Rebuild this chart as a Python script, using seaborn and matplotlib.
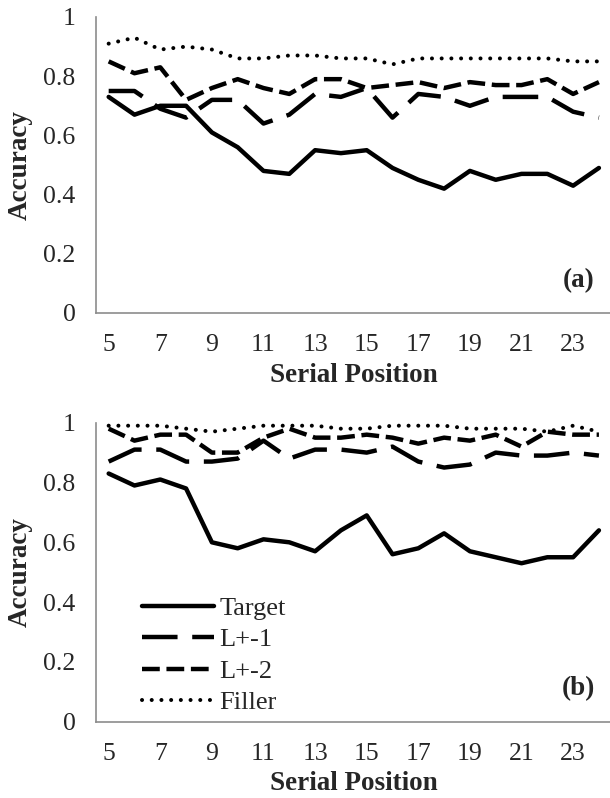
import matplotlib
matplotlib.use("Agg")
import matplotlib.pyplot as plt
import seaborn as sns
import pandas as pd
import numpy as np

positions = list(range(5, 25))
series_names = ["Target", "L+-1", "L+-2", "Filler"]

# Panel (a)
a_target = [0.73, 0.67, 0.70, 0.70, 0.61, 0.56, 0.48, 0.47, 0.55, 0.54, 0.55, 0.49, 0.45, 0.42, 0.48, 0.45, 0.47, 0.47, 0.43, 0.49]
a_l1 = [0.75, 0.75, 0.69, 0.66, 0.72, 0.72, 0.64, 0.67, 0.74, 0.73, 0.76, 0.66, 0.74, 0.73, 0.70, 0.73, 0.73, 0.73, 0.68, 0.66]
a_l2 = [0.85, 0.81, 0.83, 0.72, 0.76, 0.79, 0.76, 0.74, 0.79, 0.79, 0.76, 0.77, 0.78, 0.76, 0.78, 0.77, 0.77, 0.79, 0.74, 0.78]
a_filler = [0.91, 0.93, 0.89, 0.90, 0.89, 0.86, 0.86, 0.87, 0.87, 0.86, 0.86, 0.84, 0.86, 0.86, 0.86, 0.86, 0.86, 0.86, 0.85, 0.85]

# Panel (b)
b_target = [0.83, 0.79, 0.81, 0.78, 0.60, 0.58, 0.61, 0.60, 0.57, 0.64, 0.69, 0.56, 0.58, 0.63, 0.57, 0.55, 0.53, 0.55, 0.55, 0.64]
b_l1 = [0.87, 0.91, 0.91, 0.87, 0.87, 0.88, 0.94, 0.88, 0.91, 0.91, 0.90, 0.92, 0.87, 0.85, 0.86, 0.90, 0.89, 0.89, 0.90, 0.89]
b_l2 = [0.98, 0.94, 0.96, 0.96, 0.90, 0.90, 0.95, 0.98, 0.95, 0.95, 0.96, 0.95, 0.93, 0.95, 0.94, 0.96, 0.92, 0.97, 0.96, 0.96]
b_filler = [0.99, 0.99, 0.99, 0.98, 0.97, 0.98, 0.99, 0.99, 0.99, 0.98, 0.98, 0.99, 0.99, 0.99, 0.98, 0.98, 0.98, 0.97, 0.99, 0.97]

xtick_labels = [str(v) for v in range(5, 24, 2)]
ytick_values = [0, 0.2, 0.4, 0.6, 0.8, 1.0]
ytick_labels = ["0", "0.2", "0.4", "0.6", "0.8", "1"]

sns.set_theme(style="white")
plt.rcParams["font.family"] = ["Liberation Serif", "DejaVu Serif"]

LW = 3.2
styles = {
    "Target": dict(linestyle="-", linewidth=LW, solid_capstyle="round", solid_joinstyle="round"),
    "L+-1": dict(linestyle=(0, (8, 3.3)), linewidth=LW, dash_capstyle="butt", dash_joinstyle="round"),
    "L+-2": dict(linestyle=(0, (4, 1.5)), linewidth=LW, dash_capstyle="butt", dash_joinstyle="round"),
    "Filler": dict(linestyle=(0, (0.01, 2.4)), linewidth=2.9, dash_capstyle="round"),
}

FS_TICK = 18.5
FS_LABEL = 19.5
GRAY = "#8c8c8c"

fig = plt.figure(figsize=(6.10, 7.98), dpi=100)
ax_a = fig.add_axes([0.157, 0.6078, 0.846, 0.3709])
ax_b = fig.add_axes([0.157, 0.0956, 0.846, 0.3747])

def draw(ax, data, label):
    df = pd.DataFrame({"Serial Position": positions * 4,
                       "Accuracy": sum(data, []),
                       "Series": sum([[n] * len(positions) for n in series_names], [])})
    lines = []
    for name in series_names:
        sub = df[df["Series"] == name]
        sns.lineplot(data=sub, x="Serial Position", y="Accuracy", ax=ax, color="black",
                     label=name, legend=False, **styles[name])
        lines.append(ax.lines[-1])
    ax.set_xlim(4.5, 24.5)
    ax.set_ylim(0, 1)
    ax.set_yticks(ytick_values)
    ax.set_yticklabels(ytick_labels)
    ax.set_xticks(list(range(5, 24, 2)))
    ax.set_xticklabels(xtick_labels)
    ax.set_xticks(np.arange(4.5, 25, 1.0), minor=True)
    ax.tick_params(axis="x", which="major", length=0, pad=15, labelsize=FS_TICK)
    ax.tick_params(axis="x", which="minor", length=6, width=1, color=GRAY, direction="out")
    ax.tick_params(axis="y", which="major", length=6.5, width=1, color=GRAY, direction="out",
                   labelsize=FS_TICK, pad=8)
    for s in ["top", "right"]:
        ax.spines[s].set_visible(False)
    for s in ["left", "bottom"]:
        ax.spines[s].set_color(GRAY)
        ax.spines[s].set_linewidth(1.2)
    ax.set_xlabel("Serial Position", fontsize=FS_LABEL, fontweight="bold", labelpad=5)
    ax.set_ylabel("Accuracy", fontsize=FS_LABEL, fontweight="bold", labelpad=8)
    ax.text(0.967, 0.11, label, transform=ax.transAxes, ha="right", va="center",
            fontsize=FS_LABEL, fontweight="bold")
    ax.grid(False)
    ax.set_facecolor("white")
    return lines

draw(ax_a, [a_target, a_l1, a_l2, a_filler], "(a)")
lines_b = draw(ax_b, [b_target, b_l1, b_l2, b_filler], "(b)")

ax_b.legend(lines_b, series_names, loc="lower left", bbox_to_anchor=(0.089, 0.025),
            frameon=False, fontsize=FS_TICK + 0.5, handlelength=2.75, handletextpad=0.2,
            labelspacing=0.3, borderaxespad=0, borderpad=0)

fig.savefig("out.png", dpi=100, facecolor="white")
